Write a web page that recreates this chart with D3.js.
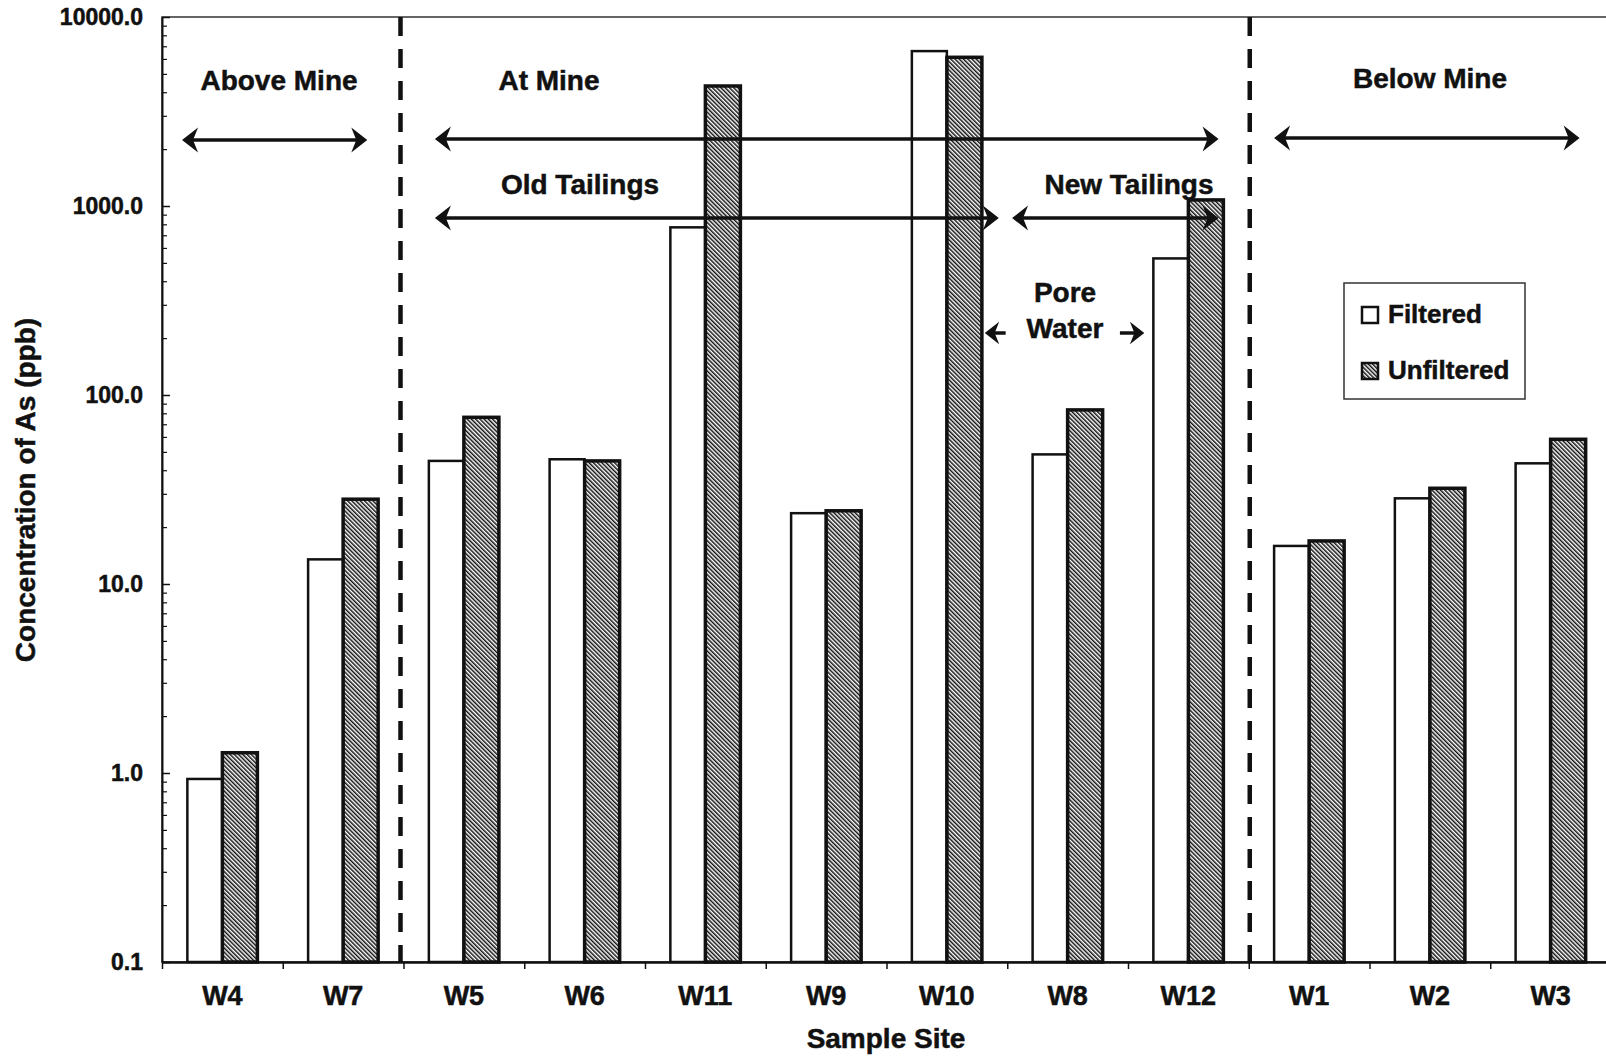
<!DOCTYPE html>
<html>
<head>
<meta charset="utf-8">
<script src="https://cdn.jsdelivr.net/npm/d3@7"></script>
<style>
  html, body { margin: 0; padding: 0; background: #fff; }
  svg { display: block; }
  text { font-family: "Liberation Sans", Arial, Helvetica, sans-serif; font-weight: bold; fill: #111;
         stroke: #111; stroke-width: 0.5px; }
</style>
</head>
<body>
<svg id="chart" width="1606" height="1060"></svg>
<script>
// Sample sites along the stream, in downstream order
const sites = ["W4", "W7", "W5", "W6", "W11", "W9", "W10", "W8", "W12", "W1", "W2", "W3"];
// Arsenic concentration (ppb), filtered and unfiltered samples
const filtered   = [0.93, 13.5, 44.8, 45.7, 771, 23.7, 6600, 48.5, 528, 15.9, 28.4, 43.5];
const unfiltered = [1.28, 28.1, 76.2, 44.8, 4315, 24.4, 6120, 83.4, 1077, 16.9, 32.1, 58.3];
const seriesNames = ["Filtered", "Unfiltered"];
const yTickValues = [0.1, 1, 10, 100, 1000, 10000];

(function () {
const svg = d3.select("#chart");
const plotLeft = 162, plotRight = 1611, plotTop = 17, plotBottom = 962;

const x = d3.scaleBand().domain(sites).range([plotLeft, plotRight]).paddingInner(0.42).paddingOuter(0.21);
const xs = d3.scaleBand().domain(seriesNames).range([0, x.bandwidth()]);
const xi = d3.scaleLinear().domain([0, sites.length]).range([plotLeft, plotRight]);
const y = d3.scaleLog().domain([0.1, 10000]).range([plotBottom, plotTop]);

// hatch pattern for unfiltered bars
const defs = svg.append("defs");
defs.append("pattern")
  .attr("id", "hatch")
  .attr("patternUnits", "userSpaceOnUse")
  .attr("width", 3).attr("height", 3)
  .attr("patternTransform", "rotate(-45)")
  .append("rect").attr("x", 0).attr("y", 0).attr("width", 1.5).attr("height", 3).attr("fill", "#111");

// plot frame
svg.append("rect")
  .attr("x", plotLeft).attr("y", plotTop)
  .attr("width", plotRight - plotLeft).attr("height", plotBottom - plotTop)
  .attr("fill", "none").attr("stroke", "#333").attr("stroke-width", 1.5);

// bars
const rows = sites.map((s, i) => ({ site: s, values: [filtered[i], unfiltered[i]] }));
const groups = svg.append("g").selectAll("g").data(rows).join("g")
  .attr("transform", d => `translate(${x(d.site)},0)`);
groups.selectAll("rect").data(d => d.values.map((v, k) => ({ key: seriesNames[k], v }))).join("rect")
  .attr("x", d => xs(d.key))
  .attr("width", xs.bandwidth())
  .attr("y", d => y(d.v))
  .attr("height", d => y(0.1) - y(d.v))
  .attr("fill", d => d.key === "Filtered" ? "#fff" : "url(#hatch)")
  .attr("stroke", "#111")
  .attr("stroke-width", d => d.key === "Filtered" ? 2.5 : 3.5);

// region separators
svg.append("g").selectAll("line").data([xi(2) - 3, xi(9) + 1]).join("line")
  .attr("x1", d => d).attr("x2", d => d)
  .attr("y1", plotTop).attr("y2", plotBottom)
  .attr("stroke", "#111").attr("stroke-width", 4.5)
  .attr("stroke-dasharray", "19,13");

// y axis
const yAxis = d3.axisLeft(y).tickValues(yTickValues)
  .tickFormat(d3.format(".1f"))
  .tickSizeInner(-8).tickSizeOuter(0).tickPadding(19);
const gy = svg.append("g").attr("transform", `translate(${plotLeft},0)`).call(yAxis);
gy.select(".domain").attr("stroke", "#111").attr("stroke-width", 2);
gy.selectAll(".tick line").attr("stroke", "#111").attr("stroke-width", 1.5);
gy.selectAll("text").style("font-size", "23px").attr("fill", "#111");

const minor = [];
[0.1, 1, 10, 100, 1000].forEach(b => { for (let m = 2; m <= 9; m++) minor.push(b * m); });
const gyMinor = svg.append("g").attr("transform", `translate(${plotLeft},0)`)
  .call(d3.axisLeft(y).tickValues(minor).tickFormat("").tickSizeInner(-5).tickSizeOuter(0));
gyMinor.select(".domain").remove();
gyMinor.selectAll(".tick line").attr("stroke", "#111").attr("stroke-width", 1.2);

// x axis: boundary ticks and site labels
const gxTicks = svg.append("g").attr("transform", `translate(0,${plotBottom})`)
  .call(d3.axisBottom(xi).tickValues(d3.range(0, sites.length + 1)).tickFormat("").tickSizeInner(7).tickSizeOuter(0));
gxTicks.select(".domain").attr("stroke", "#111").attr("stroke-width", 2.5);
gxTicks.selectAll(".tick line").attr("stroke", "#111").attr("stroke-width", 1.5);

const gx = svg.append("g").attr("transform", `translate(0,${plotBottom})`)
  .call(d3.axisBottom(x).tickSize(0).tickPadding(24));
gx.select(".domain").remove();
gx.selectAll("text").style("font-size", "27px").attr("fill", "#111");

// axis titles
svg.append("text").attr("x", 886).attr("y", 1048)
  .attr("text-anchor", "middle").style("font-size", "28px").text("Sample Site");
svg.append("text").attr("transform", "translate(35,490) rotate(-90)")
  .attr("text-anchor", "middle").style("font-size", "28px").text("Concentration of As (ppb)");

// annotations
const labels = [
  { t: "Above Mine", x: 279, y: 90 },
  { t: "At Mine", x: 549, y: 90 },
  { t: "Below Mine", x: 1430, y: 88 },
  { t: "Old Tailings", x: 580, y: 194 },
  { t: "New Tailings", x: 1129, y: 194 },
  { t: "Pore", x: 1065, y: 302 },
  { t: "Water", x: 1065, y: 338 }
];
svg.append("g").selectAll("text").data(labels).join("text")
  .attr("x", d => d.x).attr("y", d => d.y)
  .attr("text-anchor", "middle").style("font-size", "28px").text(d => d.t);

// arrow spans in category units
const spans = [
  { a: 0.166, b: 1.70, y: 140, heads: "both", h: 1, w: 3.5 },
  { a: 2.26, b: 8.75, y: 139, heads: "both", h: 1, w: 3.5 },
  { a: 9.21, b: 11.74, y: 138, heads: "both", h: 1, w: 3.5 },
  { a: 2.26, b: 6.93, y: 218, heads: "both", h: 1, w: 3.5 },
  { a: 7.04, b: 8.75, y: 218, heads: "both", h: 1, w: 3.5 },
  { a: 6.814, b: 7.02, y: 333, heads: "start", h: 0.9, w: 3.5 },
  { a: 7.90, b: 8.135, y: 333, heads: "end", h: 0.9, w: 3.5 }
];
function head(tx, ty, dir, s) {
  // dir = -1 pointing left, +1 pointing right
  const L = 16 * s, W = 12.5 * s, n = 11 * s;
  return `M${tx},${ty} L${tx - dir * L},${ty - W} L${tx - dir * n},${ty} L${tx - dir * L},${ty + W} Z`;
}
const ga = svg.append("g");
spans.forEach(d => {
  const x1 = xi(d.a), x2 = xi(d.b);
  ga.append("line").attr("x1", x1 + 4).attr("x2", x2 - 4).attr("y1", d.y).attr("y2", d.y)
    .attr("stroke", "#111").attr("stroke-width", d.w);
  if (d.heads === "both" || d.heads === "start") ga.append("path").attr("d", head(x1, d.y, -1, d.h)).attr("fill", "#111");
  if (d.heads === "both" || d.heads === "end") ga.append("path").attr("d", head(x2, d.y, 1, d.h)).attr("fill", "#111");
});

// legend
const lg = svg.append("g").attr("transform", "translate(1344,283)");
lg.append("rect").attr("width", 181).attr("height", 116).attr("fill", "#fff")
  .attr("stroke", "#333").attr("stroke-width", 1.5);
const items = lg.selectAll("g.item").data(seriesNames).join("g")
  .attr("class", "item").attr("transform", (d, i) => `translate(18,${24 + i * 56})`);
items.append("rect").attr("width", 16).attr("height", 16)
  .attr("fill", d => d === "Filtered" ? "#fff" : "url(#hatch)")
  .attr("stroke", "#111").attr("stroke-width", 2.5);
items.append("text").attr("x", 26).attr("y", 16).style("font-size", "26px").text(d => d);
})();
</script>
</body>
</html>
